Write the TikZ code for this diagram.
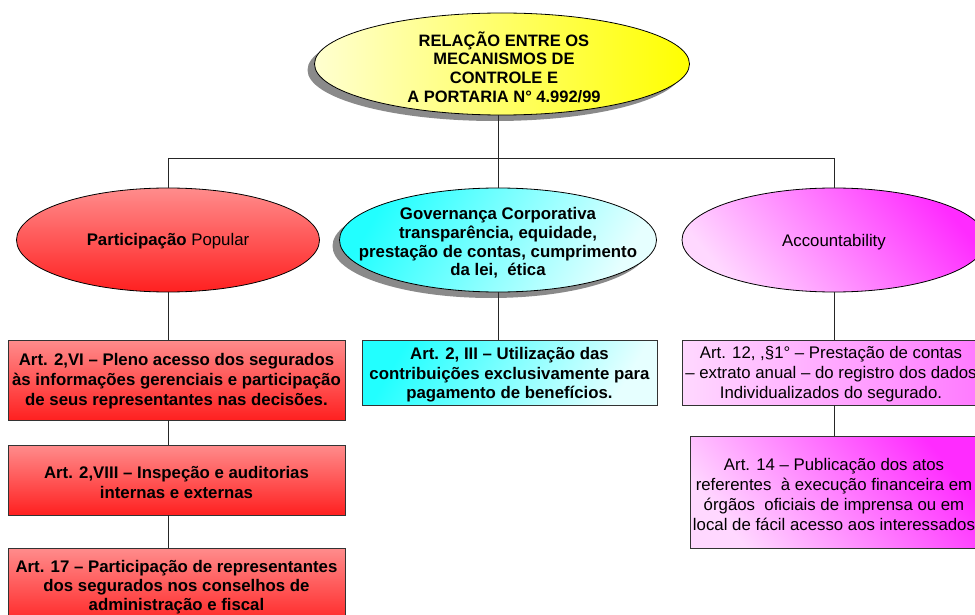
\documentclass[tikz,border=0pt]{standalone}
\usepackage{fontspec}
\setmainfont{Liberation Sans}
\usetikzlibrary{shapes.geometric,shadows}
\definecolor{yelL}{HTML}{FFFFD0}
\definecolor{yelD}{HTML}{FFFF00}
\definecolor{redL}{HTML}{FF8C8C}
\definecolor{redD}{HTML}{FF2020}
\definecolor{cyaD}{HTML}{22FFFF}
\definecolor{cyaL}{HTML}{E6FFFF}
\definecolor{magD}{HTML}{FF2BFF}
\definecolor{magL}{HTML}{FFD8FF}
\definecolor{shadowgray}{HTML}{8A8A8A}
\begin{document}
\begin{tikzpicture}[x=1pt,y=-1pt,
  every node/.style={align=center, inner sep=0pt},
  ell/.style={ellipse, draw=black, line width=0.8pt},
  box/.style={rectangle, draw=black!80, line width=0.8pt},
  shad/.style={drop shadow={shadow xshift=-7pt, shadow yshift=-6pt, fill=shadowgray, opacity=1}},
  big/.style={font=\fontsize{16.8}{20}\selectfont},
  bigb/.style={font=\bfseries\fontsize{16.8}{20}\selectfont},
  link/.style={draw=black!85, line width=0.8pt}]
\useasboundingbox (0,0) rectangle (975,615);
\clip (0,0) rectangle (975,615);

% top ellipse
\node[ell, shad, left color=yelL, right color=yelD, minimum width=375pt, minimum height=102pt] (top) at (502,64) {};
\node[font=\bfseries\fontsize{16.5}{18.6}\selectfont] (toptxt) at (504,67)
  {RELAÇÃO ENTRE OS\\MECANISMOS DE\\CONTROLE E\\A PORTARIA N° 4.992/99};

% second level ellipses
\node[ell, top color=redL, bottom color=redD, minimum width=303pt, minimum height=104pt] (lell) at (168,240) {};
\node[big] (lelltxt) at (168,241) {\textbf{Participação} Popular};
\node[ell, shad, top color=cyaD, bottom color=cyaL, shading angle=60, minimum width=317pt, minimum height=104pt] (mell) at (498,240) {};
\node[font=\bfseries\fontsize{16.8}{18.8}\selectfont] (melltxt) at (498,243)
  {Governança Corporativa\\transparência, equidade,\\prestação de contas, cumprimento\\da lei,\ \ ética};
\node[ell, top color=magD, bottom color=magL, shading angle=-50, minimum width=304pt, minimum height=104pt] (rell) at (834,240) {};
\node[big] (relltxt) at (834,242) {Accountability};

% left column boxes
\node[box, top color=redL, bottom color=redD, minimum width=337pt, minimum height=80pt] (l1) at (176.5,380) {};
\node[bigb] (l1txt) at (176.5,381)
  {Art. 2,VI – Pleno acesso dos segurados\\às informações gerenciais e participação\\de seus representantes nas decisões.};
\node[box, top color=redL, bottom color=redD, minimum width=337pt, minimum height=70pt] (l2) at (176.5,480) {};
\node[bigb] (l2txt) at (176.5,482)
  {Art. 2,VIII – Inspeção e auditorias\\internas e externas};
\node[box, top color=redL, bottom color=redD, minimum width=337pt, minimum height=80pt] (l3) at (176.5,588) {};
\node[font=\bfseries\fontsize{16.8}{19}\selectfont] (l3txt) at (176.5,587)
  {Art. 17 – Participação de representantes\\dos segurados nos conselhos de\\administração e fiscal};

% middle box
\node[box, top color=cyaD, bottom color=cyaL, shading angle=60, minimum width=295pt, minimum height=65pt] (m1) at (509.5,372.5) {};
\node[font=\bfseries\fontsize{16.8}{19.5}\selectfont] (m1txt) at (509.5,375)
  {Art. 2, III – Utilização das\\contribuições exclusivamente para\\pagamento de benefícios.};

% right boxes
\node[box, left color=magL, right color=magD!55!magL, minimum width=300pt, minimum height=65pt] (r1) at (832,372.5) {};
\node[big] (r1txt) at (831,374)
  {Art. 12, ,§1° – Prestação de contas\\– extrato anual – do registro dos dados\\Individualizados do segurado.};
\node[box, top color=magD, bottom color=magL, shading angle=-50, minimum width=290pt, minimum height=112pt] (r2) at (835,492) {};
\node[big] (r2txt) at (834,494)
  {Art. 14 – Publicação dos atos\\referentes\ \ à execução financeira em\\órgãos\ \ oficiais de imprensa ou em\\local de fácil acesso aos interessados};

% connectors
\coordinate (bar) at (0,158);
\draw[link] (mell |- top.south) -- (mell |- bar);
\draw[link] (lell |- bar) -- (rell |- bar);
\draw[link] (lell |- bar) -- (lell.north);
\draw[link] (mell |- bar) -- (mell.north);
\draw[link] (rell |- bar) -- (rell.north);
\draw[link] (lell.south) -- (lell.south |- l1.north);
\draw[link] (lell.south |- l1.south) -- (lell.south |- l2.north);
\draw[link] (lell.south |- l2.south) -- (lell.south |- l3.north);
\draw[link] (mell.south) -- (mell.south |- m1.north);
\draw[link] (rell.south) -- (rell.south |- r1.north);
\draw[link] (rell.south |- r1.south) -- (rell.south |- r2.north);
\end{tikzpicture}
\end{document}
